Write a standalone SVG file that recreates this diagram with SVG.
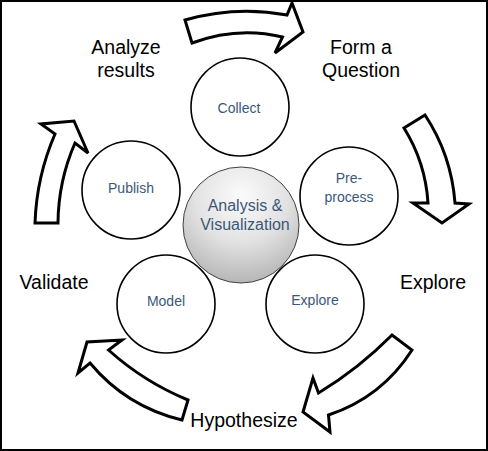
<svg xmlns="http://www.w3.org/2000/svg" width="488" height="451" viewBox="0 0 488 451">
<style>
.arrow{fill:#fff;stroke:#000;stroke-width:3;stroke-linejoin:miter}
.node{fill:#fff;stroke:#000;stroke-width:1.6}
.big{font-family:"Liberation Sans",Arial,sans-serif;font-size:19.5px;fill:#000;text-anchor:middle}
.small{font-family:"Liberation Sans",Arial,sans-serif;font-size:14px;fill:#3B5878;text-anchor:middle}
.mid{font-family:"Liberation Sans",Arial,sans-serif;font-size:16px;fill:#3B5878;text-anchor:middle}
</style>
<defs>
<radialGradient id="g" cx="50%" cy="25%" r="80%">
<stop offset="0" stop-color="#fbfbfb"/>
<stop offset="0.5" stop-color="#e2e2e2"/>
<stop offset="1" stop-color="#b0b0b0"/>
</radialGradient>
</defs>
<rect x="1" y="1" width="486" height="449" fill="#fff" stroke="#000" stroke-width="2"/>
<g id="connectors">
<path class="arrow" d="M185,20 Q236,5.5 287,15 L292,3 L303,32 L275,53 L282.5,37 Q237.5,26 192,43 Z"/>
<path class="arrow" d="M425,115 Q451.4,155 455,203 L469,204 L442,223 L413,203 L428,203 Q425.5,162.5 404,128 Z"/>
<path class="arrow" d="M412,350 Q381.6,397.5 328.5,415 L330,432 L303,412 L313,378 L318.5,393 Q358.7,368.7 392,335 Z"/>
<path class="arrow" d="M188,400 Q143.8,381.8 108.5,350 L122,340 L87,342 L78,373 L90,363 Q126.5,406.8 182,420 Z"/>
<path class="arrow" d="M35,223 Q36.6,176.6 55,134 L41,124 L74,121 L88,153 L75,143 Q58.3,181.3 58,223 Z"/>
</g>
<g id="label-analyze"><text class="big" x="126" y="54">Analyze</text><text class="big" x="126" y="77">results</text></g>
<g id="label-question"><text class="big" x="361" y="54">Form a</text><text class="big" x="361" y="77">Question</text></g>
<g id="label-validate"><text class="big" x="54" y="289">Validate</text></g>
<g id="label-explore"><text class="big" x="433" y="289">Explore</text></g>
<g id="label-hypothesize"><text class="big" x="244" y="427">Hypothesize</text></g>
<g id="collect"><circle class="node" cx="240" cy="107" r="49"/><text class="small" x="239" y="113">Collect</text></g>
<g id="publish"><circle class="node" cx="131" cy="190" r="49"/><text class="small" x="131" y="193">Publish</text></g>
<g id="preprocess"><circle class="node" cx="349" cy="196" r="49"/><text class="small" x="349" y="183">Pre-</text><text class="small" x="349" y="202">process</text></g>
<g id="model"><circle class="node" cx="166" cy="304" r="49"/><text class="small" x="166" y="306">Model</text></g>
<g id="explore"><circle class="node" cx="315" cy="304" r="49"/><text class="small" x="315" y="305">Explore</text></g>
<g id="center"><circle cx="241" cy="225" r="58" fill="url(#g)" stroke="#404040" stroke-width="1"/><text class="mid" x="245" y="211">Analysis &amp;</text><text class="mid" x="245" y="230">Visualization</text></g>
</svg>
